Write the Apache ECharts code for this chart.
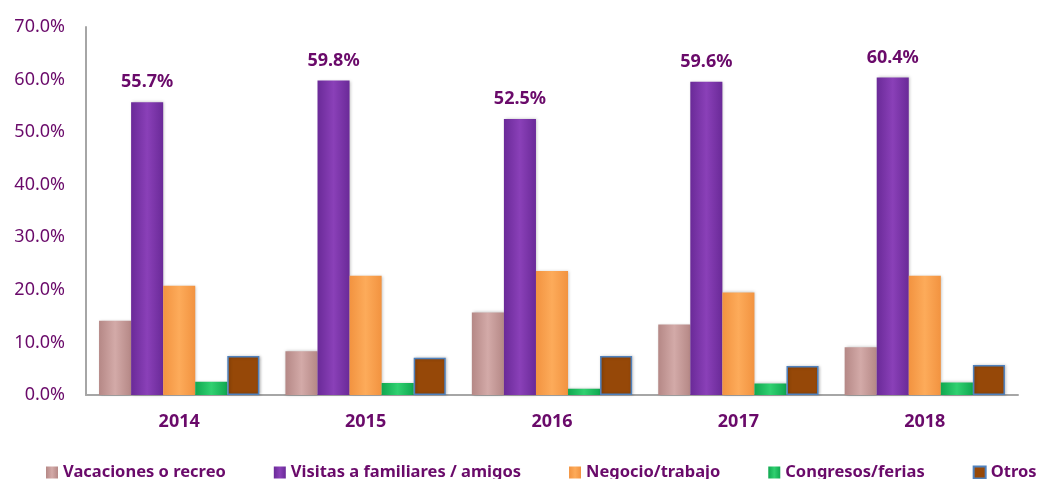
<!DOCTYPE html>
<html>
<head>
<meta charset="utf-8">
<script src="https://cdn.jsdelivr.net/npm/echarts@6/dist/echarts.min.js"></script>
<style>
  html, body { margin: 0; padding: 0; background: #fff; }
  #chart { width: 1037px; height: 479px; }
</style>
</head>
<body>
<div id="chart"></div>
<script>
const years = ['2014', '2015', '2016', '2017', '2018']
const vacaciones = [14.1, 8.3, 15.7, 13.4, 9.1]
const visitas = [55.7, 59.8, 52.5, 59.6, 60.4]
const negocio = [20.8, 22.7, 23.6, 19.5, 22.7]
const congresos = [2.5, 2.3, 1.2, 2.2, 2.4]
const otros = [7.4, 7.1, 7.4, 5.5, 5.7]

const textColor = '#6a0a6a'
const fontFamily = '"Noto Sans", sans-serif'

// horizontal shading so the bars look a bit rounded like the original
function shade(edge, mid) {
  return new echarts.graphic.LinearGradient(0, 0, 1, 0, [
    { offset: 0, color: edge },
    { offset: 0.5, color: mid },
    { offset: 1, color: edge }
  ])
}

function barSeries(name, data, edge, mid, extra) {
  return Object.assign({
    name: name,
    type: 'bar',
    data: data,
    barGap: '0%',
    barCategoryGap: '14%',
    itemStyle: {
      color: shade(edge, mid),
      shadowColor: 'rgba(0,0,0,0.25)',
      shadowBlur: 3,
      shadowOffsetX: 1
    }
  }, extra || {})
}

const chart = echarts.init(document.getElementById('chart'))
chart.setOption({
  animation: false,
  grid: { left: 86, right: 19, top: 27, bottom: 84 },
  legend: {
    bottom: -2,
    left: 46,
    width: 1000,
    padding: 0,
    itemWidth: 12,
    itemHeight: 12,
    itemGap: 48,
    icon: 'rect',
    textStyle: { color: textColor, fontWeight: 'bold', fontSize: 16.5, fontFamily: fontFamily }
  },
  xAxis: {
    type: 'category',
    data: years,
    axisTick: { show: false },
    axisLine: { lineStyle: { color: '#a6a6a6', width: 2 } },
    axisLabel: { color: textColor, fontWeight: 'bold', fontSize: 18, fontFamily: fontFamily, margin: 18 }
  },
  yAxis: {
    type: 'value',
    min: 0,
    max: 70,
    interval: 10,
    splitLine: { show: false },
    axisTick: { show: false },
    axisLine: { show: true, lineStyle: { color: '#a6a6a6', width: 2 } },
    axisLabel: {
      color: textColor,
      fontSize: 18,
      fontFamily: fontFamily,
      margin: 21,
      formatter: v => v.toFixed(1) + '%'
    }
  },
  series: [
    barSeries('Vacaciones o recreo', vacaciones, '#b58886', '#d3aaa8'),
    barSeries('Visitas a familiares / amigos', visitas, '#6a2a98', '#8a40b8', {
      label: {
        show: true,
        position: 'top',
        distance: 11,
        color: textColor,
        fontWeight: 'bold',
        fontSize: 18,
        fontFamily: fontFamily,
        formatter: p => p.value.toFixed(1) + '%'
      }
    }),
    barSeries('Negocio/trabajo', negocio, '#f29340', '#fdab5a'),
    barSeries('Congresos/ferias', congresos, '#10a850', '#30d070'),
    barSeries('Otros', otros, '#964808', '#964808', {
      itemStyle: {
        color: '#964808',
        borderColor: '#4f81bd',
        borderWidth: 1.5,
        shadowColor: 'rgba(0,0,0,0.25)',
        shadowBlur: 3,
        shadowOffsetX: 1
      }
    })
  ]
})
</script>
</body>
</html>
